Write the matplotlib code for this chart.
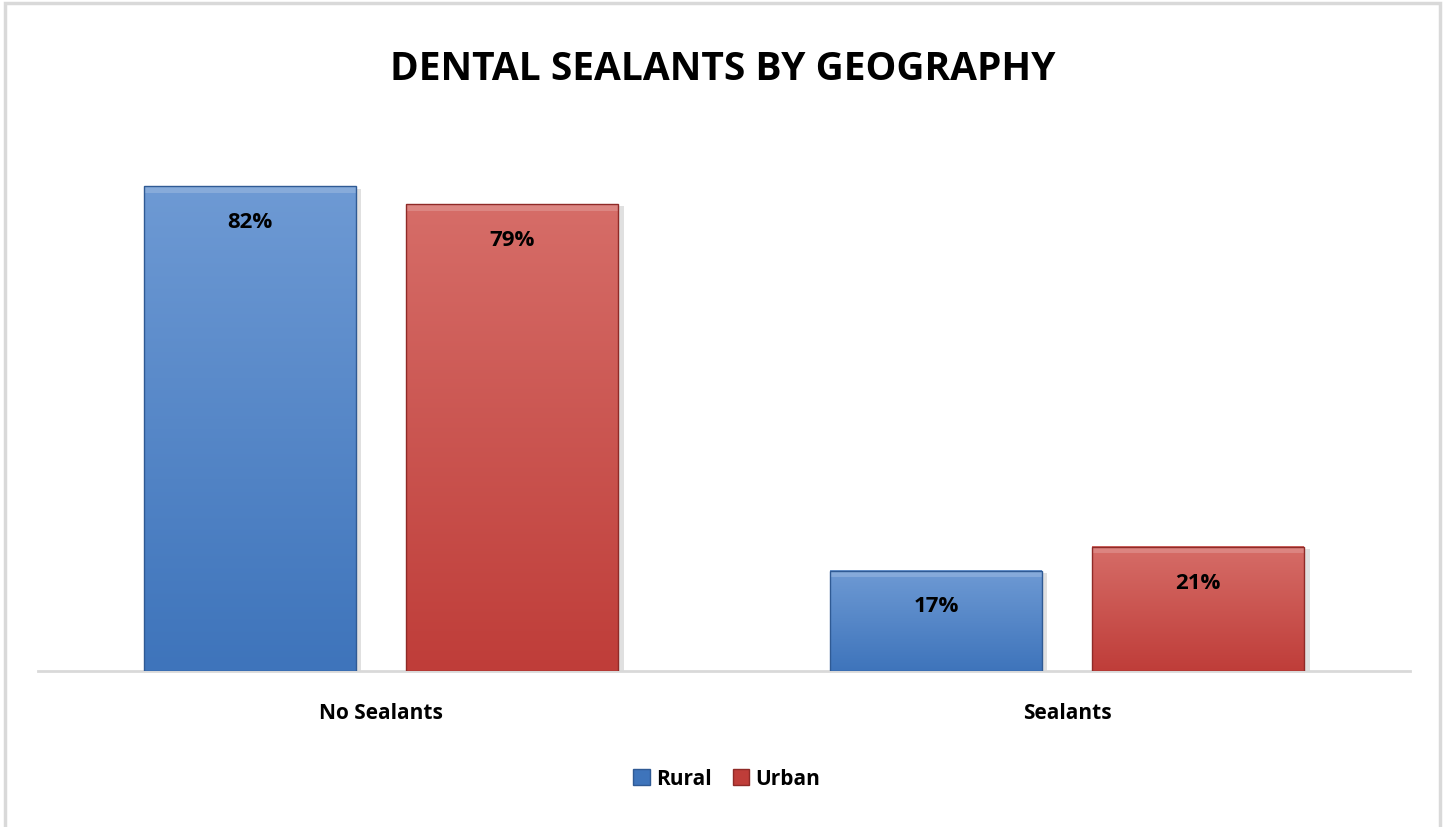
from matplotlib import pyplot as plt
from matplotlib.patches import Patch, Rectangle
import matplotlib.colors as mcolors
import numpy as np

categories = ['No Sealants', 'Sealants']
rural = [82, 17]
urban = [79, 21]
series_names = ['Rural', 'Urban']

plt.rcParams['font.family'] = ['Open Sans', 'DejaVu Sans']

fig = plt.figure(figsize=(14.45, 8.28), dpi=100)
fig.patch.set_facecolor('white')

# light gray frame around the chart area
fig.add_artist(Rectangle((5 / 1445, -0.01), 1435 / 1445, 1.0 - 4 / 828 + 0.01,
                         transform=fig.transFigure, fill=False,
                         edgecolor='#d9d9d9', linewidth=2.5))

ax = fig.add_axes([38 / 1445, (828 - 672) / 828, 1372 / 1445, (672 - 140) / 828])

x = np.arange(len(categories))
width = 0.309
offset = (width + 0.073) / 2

# (top colour, bottom colour, edge) for each series
shades = {
    'Rural': ('#6e9ad4', '#3e74bb', '#2f5a94'),
    'Urban': ('#d66d68', '#bf3d39', '#8f2a27'),
}

for name, vals, dx in [('Rural', rural, -offset), ('Urban', urban, offset)]:
    top, bottom, edge = shades[name]
    bars = ax.bar(x + dx, vals, width, color='none', edgecolor='none', zorder=3)
    cmap = mcolors.LinearSegmentedColormap.from_list(name, [bottom, top])
    for b, v in zip(bars, vals):
        x0, w, h = b.get_x(), b.get_width(), b.get_height()
        grad = np.linspace(0, 1, 256).reshape(-1, 1)
        # soft drop shadow on the right
        ax.add_patch(Rectangle((x0 + 0.004, 0), w + 0.004, h - 0.4, facecolor='#000000',
                               alpha=0.12, edgecolor='none', zorder=2))
        ax.imshow(grad, cmap=cmap, origin='lower', aspect='auto',
                  extent=[x0, x0 + w, 0, h], zorder=3)
        # bevel highlight along the top
        ax.add_patch(Rectangle((x0, h - 1.1), w, 1.1, facecolor='white',
                               alpha=0.18, edgecolor='none', zorder=4))
        ax.add_patch(Rectangle((x0, 0), w, h, fill=False, edgecolor=edge,
                               linewidth=1.0, zorder=5))
        ax.text(x0 + w / 2, h - 6, f'{v}%', ha='center', va='center',
                fontsize=16, fontweight='bold', color='black', zorder=6)

ax.set_xlim(-0.5, 1.5)
ax.set_ylim(0, 90)

for s in ['top', 'right', 'left']:
    ax.spines[s].set_visible(False)
ax.spines['bottom'].set_color('#d9d9d9')
ax.spines['bottom'].set_linewidth(2)
ax.set_yticks([])
ax.set_xticks(x)
ax.set_xticklabels(categories, fontsize=15, fontweight='bold')
ax.tick_params(axis='x', length=0, pad=22)

fig.text(0.5, 1 - 70 / 828, 'DENTAL SEALANTS BY GEOGRAPHY', ha='center', va='center',
         fontsize=28, fontweight='bold')

handles = [Patch(facecolor=shades[n][1], edgecolor=shades[n][2]) for n in series_names]
fig.legend(handles, series_names, loc='center', bbox_to_anchor=(0.503, 1 - 780 / 828),
           ncol=2, frameon=False, handlelength=0.8, handleheight=0.8,
           handletextpad=0.3, columnspacing=1.0,
           prop={'size': 15, 'weight': 'bold'})

plt.savefig('out.png', dpi=100, facecolor='white')
